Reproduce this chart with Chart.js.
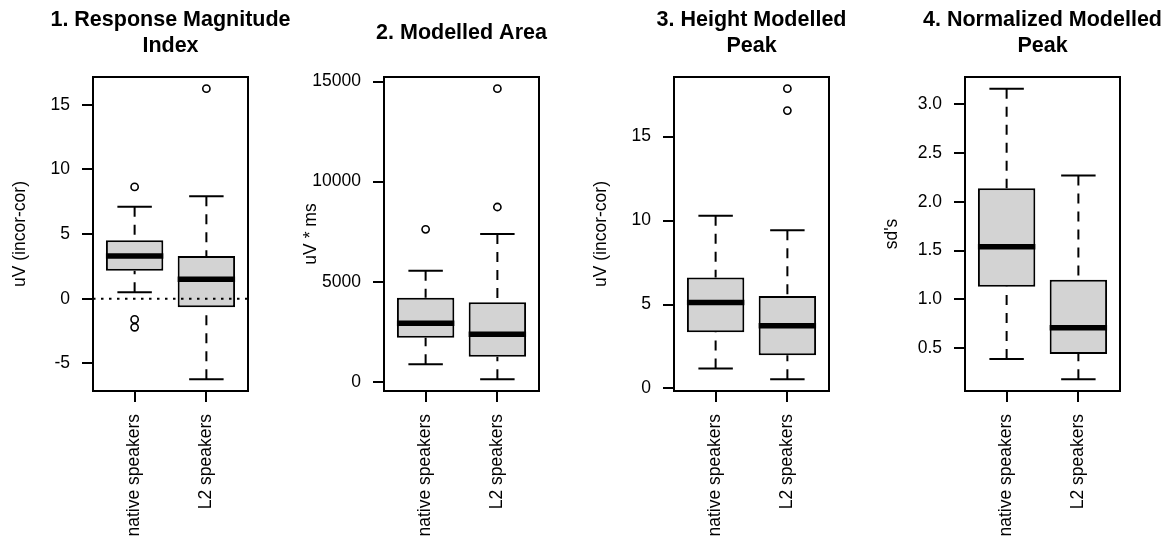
<!DOCTYPE html>
<html>
<head>
<meta charset="utf-8">
<script src="https://cdn.jsdelivr.net/npm/chart.js@4"></script>
<style>
  body { margin: 0; background: #fff; }
  #wrap { position: relative; width: 1170px; height: 541px; overflow: hidden; background: #fff; }
  #wrap canvas { position: absolute; top: 0; }
</style>
</head>
<body>
<div id="wrap">
  <canvas id="c0" width="341" height="541"></canvas>
  <canvas id="c1" width="341" height="541"></canvas>
  <canvas id="c2" width="341" height="541"></canvas>
  <canvas id="c3" width="341" height="541"></canvas>
</div>
<script>
// groups on the x axis
const groups = ['native speakers', 'L2 speakers'];

const panelTitles = [
    ['1. Response Magnitude', 'Index'],
    ['2. Modelled Area'],
    ['3. Height Modelled', 'Peak'],
    ['4. Normalized Modelled', 'Peak']
];
const yTitles = ['uV (incor-cor)', 'uV * ms', 'uV (incor-cor)', "sd's"];

// box stats: [lower whisker, Q1, median, Q3, upper whisker]
const rmiNative = [0.49, 2.17, 3.30, 4.52, 7.12];
const rmiL2 = [-6.24, -0.67, 1.50, 3.30, 7.93];
const rmiNativeOut = [8.65, -1.60, -2.21];
const rmiL2Out = [16.25];

const areaNative = [867, 2200, 2917, 4200, 5550];
const areaL2 = [117, 1250, 2367, 3967, 7383];
const areaNativeOut = [7617];
const areaL2Out = [8733, 14650];

const heightNative = [1.19, 3.34, 5.12, 6.61, 10.29];
const heightL2 = [0.54, 1.97, 3.73, 5.50, 9.42];
const heightNativeOut = [];
const heightL2Out = [16.55, 17.86];

const normNative = [0.39, 1.13, 1.54, 2.14, 3.16];
const normL2 = [0.18, 0.44, 0.71, 1.20, 2.27];
const normNativeOut = [];
const normL2Out = [];

// y ticks
const rmiTicks = [-5, 0, 5, 10, 15];
const rmiTickLabels = ['-5', '0', '5', '10', '15'];
const areaTicks = [0, 5000, 10000, 15000];
const areaTickLabels = ['0', '5000', '10000', '15000'];
const heightTicks = [0, 5, 10, 15];
const heightTickLabels = ['0', '5', '10', '15'];
const normTicks = [0.5, 1.0, 1.5, 2.0, 2.5, 3.0];
const normTickLabels = ['0.5', '1.0', '1.5', '2.0', '2.5', '3.0'];

// dotted reference line (only first panel)
const refLines = [0, null, null, null];

const panels = [
    { stats: [rmiNative, rmiL2], outs: [rmiNativeOut, rmiL2Out], ticks: rmiTicks, tickLabels: rmiTickLabels },
    { stats: [areaNative, areaL2], outs: [areaNativeOut, areaL2Out], ticks: areaTicks, tickLabels: areaTickLabels },
    { stats: [heightNative, heightL2], outs: [heightNativeOut, heightL2Out], ticks: heightTicks, tickLabels: heightTickLabels },
    { stats: [normNative, normL2], outs: [normNativeOut, normL2Out], ticks: normTicks, tickLabels: normTickLabels }
];

Chart.defaults.font.family = '"Liberation Sans", Arial, sans-serif';
Chart.defaults.color = '#000';

const boxWex = 0.8;
const stapleWex = 0.48;
const panelLefts = [0, 291, 581, 872];
const marginLeft = 93;   // y axis area, mirrored on the right so titles center over the plot

const framePlugin = {
    id: 'frame',
    afterDatasetsDraw(chart, args, opts) {
        const { ctx, chartArea } = chart;
        ctx.save();
        if (opts.refLine !== null && opts.refLine !== undefined) {
            const y = chart.scales.y.getPixelForValue(opts.refLine);
            ctx.strokeStyle = '#000';
            ctx.lineWidth = 2;
            ctx.setLineDash([2.5, 5.5]);
            ctx.beginPath();
            ctx.moveTo(chartArea.left, y);
            ctx.lineTo(chartArea.right, y);
            ctx.stroke();
        }
        ctx.setLineDash([]);
        ctx.strokeStyle = '#000';
        ctx.lineWidth = 2;
        ctx.strokeRect(chartArea.left, chartArea.top, chartArea.width, chartArea.height);
        ctx.restore();
    }
};

function lineSet(points, width, dash, order) {
    return {
        type: 'line',
        data: points,
        borderColor: '#000',
        borderWidth: width,
        borderDash: dash,
        borderCapStyle: 'butt',
        pointRadius: 0,
        fill: false,
        order: order
    };
}

panels.forEach(function(p, i) {
    const canvas = document.getElementById('c' + i);
    canvas.style.left = panelLefts[i] + 'px';

    const datasets = [];
    datasets.push({
        type: 'bar',
        data: p.stats.map((s, j) => ({ x: j + 1, y: [s[1], s[3]] })),
        backgroundColor: '#d3d3d3',
        borderColor: '#000',
        borderWidth: 2,
        borderSkipped: false,
        categoryPercentage: 1,
        barPercentage: boxWex,
        order: 3
    });
    p.stats.forEach(function(s, j) {
        const x = j + 1;
        datasets.push(lineSet([{ x: x, y: s[4] }, { x: x, y: s[3] }], 2, [10, 8], 2));
        datasets.push(lineSet([{ x: x, y: s[0] }, { x: x, y: s[1] }], 2, [10, 8], 2));
        datasets.push(lineSet([{ x: x - stapleWex / 2, y: s[4] }, { x: x + stapleWex / 2, y: s[4] }], 2, [], 2));
        datasets.push(lineSet([{ x: x - stapleWex / 2, y: s[0] }, { x: x + stapleWex / 2, y: s[0] }], 2, [], 2));
        datasets.push(lineSet([{ x: x - boxWex / 2, y: s[2] }, { x: x + boxWex / 2, y: s[2] }], 5.5, [], 1));
    });
    datasets.push({
        type: 'scatter',
        data: p.outs.flatMap((o, j) => o.map(v => ({ x: j + 1, y: v }))),
        pointRadius: 3.6,
        pointBorderWidth: 1.6,
        pointBorderColor: '#000',
        pointBackgroundColor: 'rgba(0,0,0,0)',
        order: 0
    });

    // R style axis limits: data range plus 4%
    const all = p.stats.flat().concat(p.outs.flat());
    const lo = Math.min(...all), hi = Math.max(...all);
    const pad = 0.04 * (hi - lo);
    const xPad = 0.04 * groups.length;

    const extra = panelTitles[i].length === 1 ? 13 : 0;

    new Chart(canvas.getContext('2d'), {
        type: 'bar',
        data: { datasets: datasets },
        options: {
            responsive: false,
            animation: false,
            devicePixelRatio: 1,
            layout: { padding: 0 },
            plugins: {
                legend: { display: false },
                tooltip: { enabled: false },
                title: {
                    display: true,
                    text: panelTitles[i],
                    color: '#000',
                    font: { size: 21.5, weight: 'bold', lineHeight: 26 / 21.5 },
                    padding: { top: 7 + extra, bottom: 18 + extra }
                },
                frame: { refLine: refLines[i] }
            },
            scales: {
                x: {
                    type: 'linear',
                    offset: false,
                    min: 0.5 - xPad,
                    max: groups.length + 0.5 + xPad,
                    afterBuildTicks: s => { s.ticks = groups.map((g, j) => ({ value: j + 1 })); },
                    afterFit: s => { s.height = 150; },
                    grid: { offset: false, drawOnChartArea: false, tickLength: 11, color: '#000', lineWidth: 2 },
                    border: { display: false },
                    ticks: {
                        minRotation: 90, maxRotation: 90, autoSkip: false,
                        padding: 12, color: '#000', font: { size: 17.5 },
                        callback: (v, idx) => groups[idx]
                    }
                },
                y: {
                    type: 'linear',
                    min: lo - pad,
                    max: hi + pad,
                    afterBuildTicks: s => { s.ticks = p.ticks.map(v => ({ value: v })); },
                    afterFit: s => { s.width = marginLeft; },
                    grid: { drawOnChartArea: false, tickLength: 11, color: '#000', lineWidth: 2 },
                    border: { display: false },
                    ticks: {
                        padding: 12, color: '#000', font: { size: 17.5 },
                        callback: (v, idx) => p.tickLabels[idx]
                    },
                    title: {
                        display: true,
                        text: yTitles[i],
                        color: '#000',
                        font: { size: 17.5 },
                        padding: { top: 10, bottom: 0 }
                    }
                },
                // empty right-hand spacer, same width as the y axis
                spacer: {
                    type: 'linear',
                    position: 'right',
                    afterFit: s => { s.width = marginLeft; },
                    grid: { display: false },
                    border: { display: false },
                    ticks: { display: false }
                }
            }
        },
        plugins: [framePlugin]
    });
});
</script>
</body>
</html>
